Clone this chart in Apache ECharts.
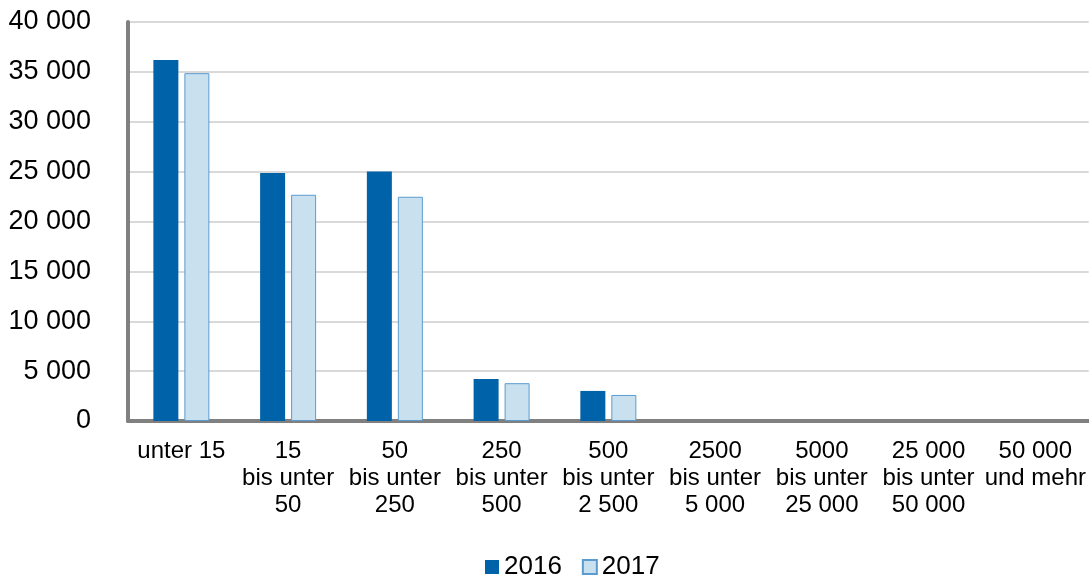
<!DOCTYPE html>
<html>
<head>
<meta charset="utf-8">
<script src="https://cdn.jsdelivr.net/npm/echarts@6/dist/echarts.min.js"></script>
<style>
html,body{margin:0;padding:0;background:#fff;}
#chart{width:1089px;height:577px;}
</style>
</head>
<body>
<div id="chart"></div>
<script>
const categories = [
  "unter 15",
  "15\nbis unter\n50",
  "50\nbis unter\n250",
  "250\nbis unter\n500",
  "500\nbis unter\n2 500",
  "2500\nbis unter\n5 000",
  "5000\nbis unter\n25 000",
  "25 000\nbis unter\n50 000",
  "50 000\nund mehr"
];
const seriesNames = ["2016", "2017"];
const values2016 = [36180, 24850, 25020, 4220, 3015, 0, 0, 0, 0];
const values2017 = [34870, 22680, 22480, 3790, 2610, 0, 0, 0, 0];
const yTicks = [0, 5000, 10000, 15000, 20000, 25000, 30000, 35000, 40000];

const fontFamily = "'Liberation Sans', Arial, sans-serif";
const fmt = v => String(v).replace(/\B(?=(\d{3})+(?!\d))/g, " ");
const withBorder = vals => vals.map(v => v === 0 ? { value: v, itemStyle: { borderWidth: 0 } } : v);

const chart = echarts.init(document.getElementById('chart'));
chart.setOption({
  animation: false,
  backgroundColor: '#ffffff',
  grid: { left: 128, right: 0, top: 22, bottom: 156, containLabel: false },
  legend: {
    left: 485, top: 554, padding: 0,
    icon: 'rect', itemWidth: 14, itemHeight: 14, itemGap: 20,
    textStyle: { fontFamily, fontSize: 26, color: '#000' },
    data: seriesNames
  },
  xAxis: {
    type: 'category',
    data: categories,
    axisLine: { show: true, lineStyle: { color: '#808080', width: 4 } },
    axisTick: { show: false },
    axisLabel: { interval: 0, color: '#000', fontFamily, fontSize: 24, lineHeight: 27, margin: 17 }
  },
  yAxis: {
    type: 'value',
    min: yTicks[0], max: yTicks[yTicks.length - 1], interval: 5000,
    axisLine: { show: true, lineStyle: { color: '#808080', width: 4 } },
    axisTick: { show: false },
    splitLine: { lineStyle: { color: '#d9d9d9', width: 2 } },
    axisLabel: { color: '#000', fontFamily, fontSize: 27, margin: 37, formatter: fmt }
  },
  series: [
    {
      name: seriesNames[0], type: 'bar', data: values2016,
      barWidth: 25, barGap: '24%',
      itemStyle: { color: '#0062a8' }
    },
    {
      name: seriesNames[1], type: 'bar', data: withBorder(values2017),
      barWidth: 25,
      itemStyle: { color: '#c9e0ef', borderColor: '#5b9bd0', borderWidth: 1 }
    }
  ]
});
</script>
</body>
</html>
